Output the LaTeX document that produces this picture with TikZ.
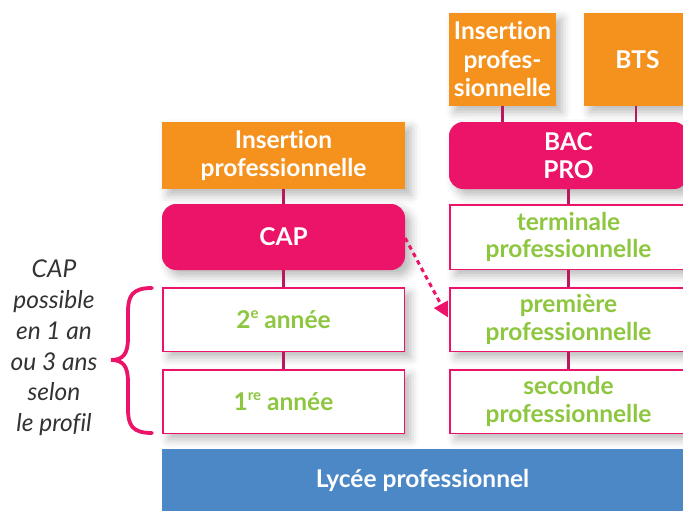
\documentclass[tikz,border=0pt]{standalone}
\usepackage{fontspec}
\setmainfont{Lato}[Ligatures=NoCommon]
\usetikzlibrary{arrows.meta,shadows.blur}
\definecolor{orng}{HTML}{F5921E}
\definecolor{pnk}{HTML}{EB1468}
\definecolor{darkpnk}{HTML}{B8185E}
\definecolor{grn}{HTML}{8DC63F}
\definecolor{blu}{HTML}{4C88C6}
\definecolor{txtgray}{HTML}{333333}
\newcommand{\supx}[1]{\raisebox{0.42em}{\fontsize{15}{15}\selectfont #1}}
\tikzset{
  shad/.style={blur shadow={shadow xshift=6pt, shadow yshift=-6pt, shadow blur radius=9pt, shadow opacity=28}},
  base/.style={inner sep=0pt, align=center, font=\bfseries\fontsize{24.5}{27.5}\selectfont},
  orangebox/.style={base, shad, fill=orng, text=white},
  pinkbox/.style={base, shad, fill=pnk, text=white, rounded corners=14pt},
  whitebox/.style={base, shad, fill=white, draw=pnk, line width=1.5pt, text=grn},
  bluebox/.style={base, fill=blu, text=white},
  conn/.style={draw=darkpnk, line width=2.5pt},
  dasharrow/.style={draw=pnk, line width=3pt, dash pattern=on 4.5pt off 4pt, -{Triangle[length=15pt,width=15pt]}},
  bracestyle/.style={draw=pnk, line width=3.8pt, line cap=round},
  notetext/.style={align=center, text=txtgray, font=\itshape\fontsize{24.5}{30.8}\selectfont}
}
\begin{document}
\begin{tikzpicture}[x=1pt,y=-1pt]
\useasboundingbox (0,0) rectangle (683,511);
% right top
\node[orangebox, minimum width=107pt, minimum height=93pt, font=\bfseries\fontsize{24.5}{28.5}\selectfont] (insR) at (502.5,59.5) {Insertion\\profes-\\sionnelle};
\node[orangebox, minimum width=107pt, minimum height=93pt] (bts) at (637.5,59.5) {BTS};
% left column
\node[orangebox, minimum width=243pt, minimum height=67pt] (insL) at (283.5,155.5) {Insertion\\professionnelle};
\node[pinkbox, minimum width=243pt, minimum height=66pt] (cap) at (283.5,237) {CAP};
\node[whitebox, minimum width=241.5pt, minimum height=63.5pt] (an2) at (283.5,319.5) {2\supx{e} année};
\node[whitebox, minimum width=241.5pt, minimum height=63.5pt] (an1) at (283.5,401.5) {1\supx{re} année};
% right column
\node[pinkbox, minimum width=239pt, minimum height=67pt] (bac) at (568.5,155.5) {BAC\\PRO};
\node[whitebox, minimum width=237.5pt, minimum height=64.5pt] (term) at (568.5,237) {terminale\\professionnelle};
\node[whitebox, minimum width=237.5pt, minimum height=63.5pt] (prem) at (568.5,319.5) {première\\professionnelle};
\node[whitebox, minimum width=237.5pt, minimum height=63.5pt] (sec) at (568.5,401.5) {seconde\\professionnelle};
% bottom
\node[bluebox, minimum width=521pt, minimum height=62pt] (lyc) at (422.5,480) {Lycée professionnel};
% connectors
\draw[conn] (insL.south) -- (cap.north);
\draw[conn] (cap.south) -- (an2.north);
\draw[conn] (an2.south) -- (an1.north);
\draw[conn] (insR.south) -- (insR.south |- bac.north);
\draw[conn] (bts.south -| 636,0) -- (636,0 |- bac.north);
\draw[conn] (bac.south) -- (term.north);
\draw[conn] (term.south) -- (prem.north);
\draw[conn] (prem.south) -- (sec.north);
\draw[dasharrow] ([yshift=-1pt]cap.east) -- ([xshift=-1pt,yshift=2pt]prem.west);
% brace
\draw[bracestyle] (152,288) .. controls (132,288) and (128,296) .. (128,312) -- (128,338) .. controls (128,354) and (123,360) .. (111,360) .. controls (123,360) and (128,366) .. (128,382) -- (128,409) .. controls (128,425) and (132,433) .. (152,433);
\node[notetext] (note) at (54,348) {CAP\\possible\\en 1 an\\ou 3 ans\\selon\\le profil};
\end{tikzpicture}
\end{document}
